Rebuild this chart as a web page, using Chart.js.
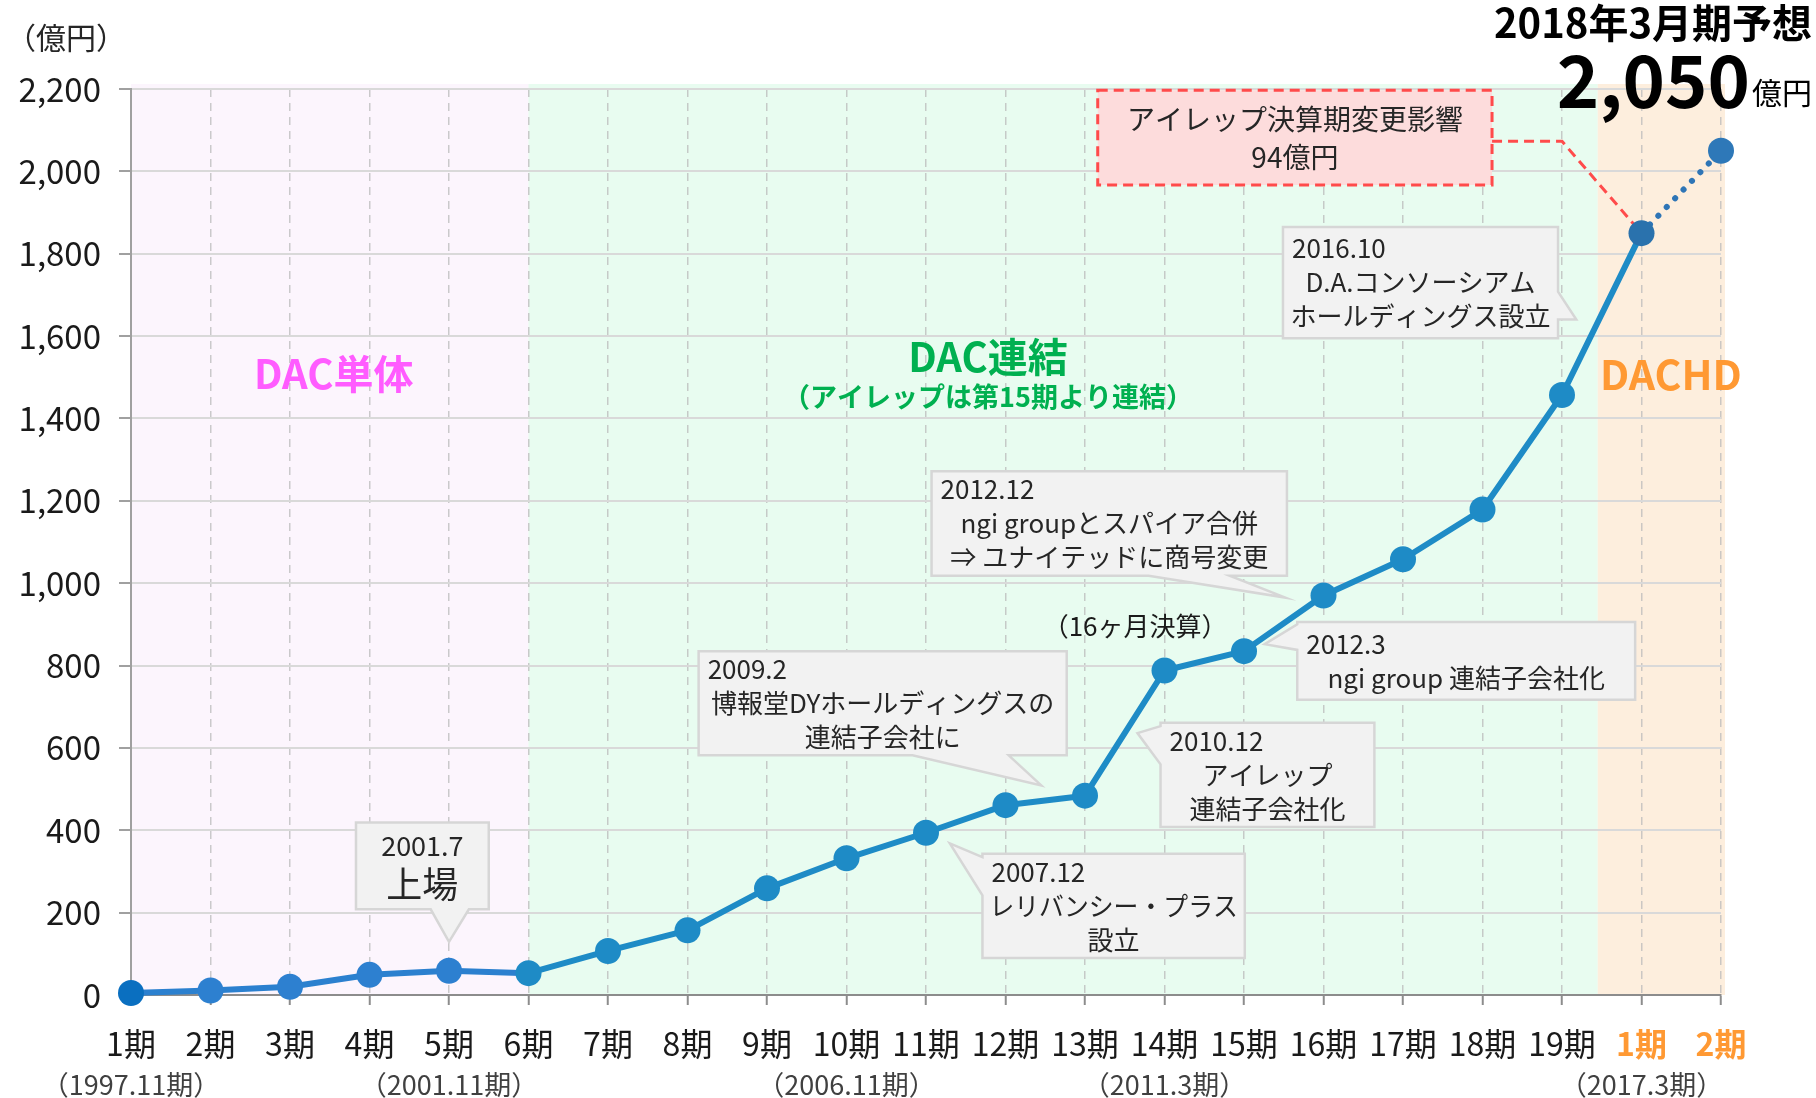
<!DOCTYPE html>
<html><head><meta charset="utf-8">
<script src="https://cdn.jsdelivr.net/npm/chart.js@4.4.1/dist/chart.umd.min.js"></script>
<style>html,body{margin:0;padding:0;background:#fff;}#wrap{width:1816px;height:1098px;position:relative;}</style>
</head><body><div id="wrap"><canvas id="c" width="1816" height="1098"></canvas></div>
<script>
// ---- data ----
const categories = ['1期','2期','3期','4期','5期','6期','7期','8期','9期','10期','11期','12期','13期','14期','15期','16期','17期','18期','19期','1期','2期'];
const periodNotes = ['（1997.11期）','','','','（2001.11期）','','','','','（2006.11期）','','','','（2011.3期）','','','','','','（2017.3期）',''];
const revenue = [5, 11, 20, 49, 59, 53, 107, 157, 259, 332, 394, 461, 484, 788, 835, 970, 1058, 1179, 1457, 1850, 2050];
const yMax = 2200;
const yStep = 200;
const hdStartIndex = 19;   // DACHD periods start here
const consolidatedStart = 5; // DAC連結 starts at 6期
const forecastLabel = '2018年3月期予想';
const forecastValue = '2,050';
const unitLabel = '億円';

const FONT = "'Noto Sans CJK JP','Noto Sans',sans-serif";
Chart.defaults.font.family = FONT;

// callouts anchored in data space (x = category index, y = value)
const callouts = [
  {x0:2.83,x1:4.50,y0:419,y1:208, side:'bottom', b0:3.77,b1:4.25, tx:4.0, ty:129,
   lines:[{t:'2001.7',a:'c',s:27,h:36},{t:'上場',a:'c',s:36,h:40}]},
  {x0:10.71,x1:14.01,y0:343,y1:90, side:'left', b0:335,b1:242, tx:10.30, ty:368,
   lines:[{t:'2007.12',a:'l'},{t:'レリバンシー・プラス',a:'c'},{t:'設立',a:'c'}]},
  {x0:7.14,x1:11.77,y0:835,y1:582, side:'bottom', b0:9.83,b1:11.04, tx:11.45, ty:509,
   lines:[{t:'2009.2',a:'l'},{t:'博報堂DYホールディングスの',a:'c'},{t:'連結子会社に',a:'c'}]},
  {x0:12.95,x1:15.64,y0:661,y1:408, side:'left', b0:653,b1:560, tx:12.66, ty:636,
   lines:[{t:'2010.12',a:'l'},{t:'アイレップ',a:'c'},{t:'連結子会社化',a:'c'}]},
  {x0:10.07,x1:14.54,y0:1272,y1:1018, side:'bottom', b0:12.80,b1:13.82, tx:14.52, ty:965,
   lines:[{t:'2012.12',a:'l'},{t:'ngi groupとスパイア合併',a:'c'},{t:'⇒ ユナイテッドに商号変更',a:'c'}]},
  {x0:14.67,x1:18.92,y0:906,y1:717, side:'left', b0:900,b1:838, tx:14.26, ty:852,
   lines:[{t:'2012.3',a:'l'},{t:'ngi group 連結子会社化',a:'c'}]},
  {x0:14.49,x1:17.95,y0:1865,y1:1595, side:'right', b0:1708,b1:1640, tx:18.18, ty:1640,
   lines:[{t:'2016.10',a:'l'},{t:'D.A.コンソーシアム',a:'c'},{t:'ホールディングス設立',a:'c'}]}
];
const redBox = {x0:12.16,x1:17.12,y0:2197,y1:1967, lines:['アイレップ決算期変更影響','94億円'], elbow:[18.0,2073]};
const regionLabels = [
  {t:'DAC単体', x:2.55, y:1508, c:'#ff5cff', s:40},
  {t:'DAC連結', x:10.78, y:1550, c:'#00b050', s:40},
  {t:'（アイレップは第15期より連結）', x:10.78, y:1452, c:'#00b050', s:27},
  {t:'DACHD', x:19.37, y:1508, c:'#ff9933', s:41}
];
const freeNotes = [{t:'（16ヶ月決算）', x:12.63, y:895, s:26}];

const pointColors = revenue.map((v,i)=> i===0 ? '#0a6fc0' : i<5 ? '#2d80d0' : i===19 ? '#2a72ad' : i===20 ? '#2e78b8' : '#1e8bc6');

const bgPlugin = {
  id:'bg',
  beforeDraw(chart){
    const {ctx, chartArea:a, scales:{x}} = chart;
    const top = a.top - 5;
    const xs = x.getPixelForValue(0), xc = x.getPixelForValue(consolidatedStart);
    const xh = x.getPixelForValue(hdStartIndex - 0.55), xe = x.getPixelForValue(revenue.length - 1) + 4;
    ctx.save();
    ctx.fillStyle = '#fcf5fd'; ctx.fillRect(xs, top, xc - xs, a.bottom - top);
    ctx.fillStyle = '#e8fcf0'; ctx.fillRect(xc, top, xh - xc, a.bottom - top);
    ctx.fillStyle = '#fdeedd'; ctx.fillRect(xh, top, xe - xh, a.bottom - top);
    ctx.restore();
  }
};

function drawCallout(ctx, X, Y, c){
  const x0=X(c.x0), x1=X(c.x1), y0=Y(c.y0), y1=Y(c.y1);
  const tip=[X(c.tx),Y(c.ty)];
  const p=[];
  p.push([x0,y0]);
  p.push([x1,y0]);
  if(c.side==='right'){ p.push([x1,Y(c.b0)],tip,[x1,Y(c.b1)]); }
  p.push([x1,y1]);
  if(c.side==='bottom'){ p.push([X(c.b1),y1],tip,[X(c.b0),y1]); }
  p.push([x0,y1]);
  if(c.side==='left'){ p.push([x0,Y(c.b1)],tip,[x0,Y(c.b0)]); }
  ctx.save();
  ctx.beginPath();
  p.forEach((q,i)=> i? ctx.lineTo(q[0],q[1]) : ctx.moveTo(q[0],q[1]));
  ctx.closePath();
  ctx.fillStyle='#f2f2f2'; ctx.fill();
  ctx.lineWidth=2.5; ctx.strokeStyle='#d6d6d6'; ctx.lineJoin='miter'; ctx.stroke();
  // text
  const lh = c.lines.map(l=>l.h||34);
  const total = lh.reduce((s,v)=>s+v,0);
  let y = (y0+y1)/2 - total/2;
  ctx.fillStyle='#262626'; ctx.textBaseline='middle';
  c.lines.forEach((l,i)=>{
    ctx.font = `${l.s||26}px ${FONT}`;
    const cy = y + lh[i]/2;
    if(l.a==='l'){ ctx.textAlign='left'; ctx.fillText(l.t, x0+9, cy); }
    else { ctx.textAlign='center'; ctx.fillText(l.t, (x0+x1)/2, cy, x1-x0-14); }
    y += lh[i];
  });
  ctx.restore();
}

const annoPlugin = {
  id:'anno',
  beforeDatasetsDraw(chart){
    const {ctx, scales:{x,y:ys}} = chart;
    const X = v=>x.getPixelForValue(v), Y = v=>ys.getPixelForValue(v);
    ctx.save();
    ctx.textAlign='center'; ctx.textBaseline='middle';
    regionLabels.forEach(r=>{ ctx.font=`bold ${r.s}px ${FONT}`; ctx.fillStyle=r.c; ctx.fillText(r.t, X(r.x), Y(r.y)); });
    freeNotes.forEach(r=>{ ctx.font=`${r.s}px ${FONT}`; ctx.fillStyle='#1a1a1a'; ctx.fillText(r.t, X(r.x), Y(r.y)); });
    ctx.restore();
    callouts.forEach(c=>drawCallout(ctx,X,Y,c));
    // red dashed box + connector
    const b=redBox;
    const bx0=X(b.x0), bx1=X(b.x1), by0=Y(b.y0), by1=Y(b.y1);
    ctx.save();
    ctx.setLineDash([10,6]); ctx.lineWidth=3; ctx.strokeStyle='#ff4b4b';
    ctx.beginPath();
    const ey=Y(b.elbow[1]);
    ctx.moveTo(bx1, ey); ctx.lineTo(X(b.elbow[0]), ey); ctx.lineTo(X(hdStartIndex), Y(revenue[hdStartIndex]));
    ctx.stroke();
    ctx.fillStyle='#fddcdc'; ctx.fillRect(bx0,by0,bx1-bx0,by1-by0);
    ctx.strokeRect(bx0,by0,bx1-bx0,by1-by0);
    ctx.setLineDash([]);
    ctx.fillStyle='#262626'; ctx.textAlign='center'; ctx.textBaseline='middle';
    ctx.font=`28px ${FONT}`;
    const cyy=(by0+by1)/2;
    ctx.fillText(b.lines[0], (bx0+bx1)/2, cyy-18, bx1-bx0-16);
    ctx.fillText(b.lines[1], (bx0+bx1)/2, cyy+20);
    ctx.restore();
  },
  afterDraw(chart){
    const {ctx, chartArea:a, scales:{x}} = chart;
    ctx.save();
    ctx.textBaseline='middle'; ctx.textAlign='center';
    ctx.font=`27px ${FONT}`; ctx.fillStyle='#404040';
    periodNotes.forEach((t,i)=>{ if(t) ctx.fillText(t, x.getPixelForValue(i), a.bottom+90); });
    ctx.textAlign='left'; ctx.font=`30px ${FONT}`; ctx.fillStyle='#262626';
    ctx.fillText('（億円）', 6, 38);
    ctx.textAlign='right'; ctx.textBaseline='alphabetic'; ctx.fillStyle='#000';
    ctx.font=`bold 40px ${FONT}`;
    ctx.fillText(forecastLabel, 1812, 38);
    ctx.font=`30px ${FONT}`;
    const uw = ctx.measureText(unitLabel).width;
    ctx.fillText(unitLabel, 1812, 104);
    ctx.font=`bold 72px ${FONT}`;
    ctx.fillText(forecastValue, 1812-uw-2, 108);
    ctx.restore();
  }
};

new Chart(document.getElementById('c'), {
  type:'line',
  data:{ labels:categories, datasets:[{
    data:revenue,
    borderColor:'#1e8bc6', borderWidth:6, borderCapStyle:'round', borderJoinStyle:'round',
    pointRadius:13, pointHoverRadius:13, pointBorderWidth:0,
    pointBackgroundColor:pointColors, pointBorderColor:pointColors,
    tension:0, clip:false,
    segment:{
      borderColor: c => c.p0DataIndex < 5 ? '#2b80cf' : c.p0DataIndex >= hdStartIndex ? '#2e75b6' : '#1e8bc6',
      borderDash: c => c.p0DataIndex >= hdStartIndex ? [0.1, 12] : undefined
    }
  }]},
  options:{
    responsive:false, animation:false, devicePixelRatio:1,
    layout:{padding:{top:89,right:95,left:0,bottom:0}},
    plugins:{legend:{display:false}, tooltip:{enabled:false}},
    scales:{
      x:{
        offset:false,
        afterFit(s){ s.height = 103; },
        grid:{color:'rgba(185,185,185,0.75)', lineWidth:1.5, tickLength:10, tickColor:'#8c8c8c', tickWidth:2, tickBorderDash:[]},
        border:{color:'#8c8c8c', width:2, dash:[8,6]},
        ticks:{padding:20, autoSkip:false, maxRotation:0,
          color: c => c.index >= hdStartIndex ? '#ff9933' : '#1a1a1a',
          font: c => ({size:32, weight: c.index >= hdStartIndex ? 'bold' : 'normal', family:FONT})}
      },
      y:{
        min:0, max:yMax,
        afterFit(s){ s.width = 131; },
        grid:{color:'#d9d9d9', lineWidth:2, tickLength:12, tickColor:'#a0a0a0'},
        border:{color:'#a0a0a0', width:2},
        ticks:{stepSize:yStep, padding:18, color:'#1a1a1a', font:{size:33, family:FONT},
          callback: v => v.toLocaleString('en-US')}
      }
    }
  },
  plugins:[bgPlugin, annoPlugin]
});
</script></body></html>
